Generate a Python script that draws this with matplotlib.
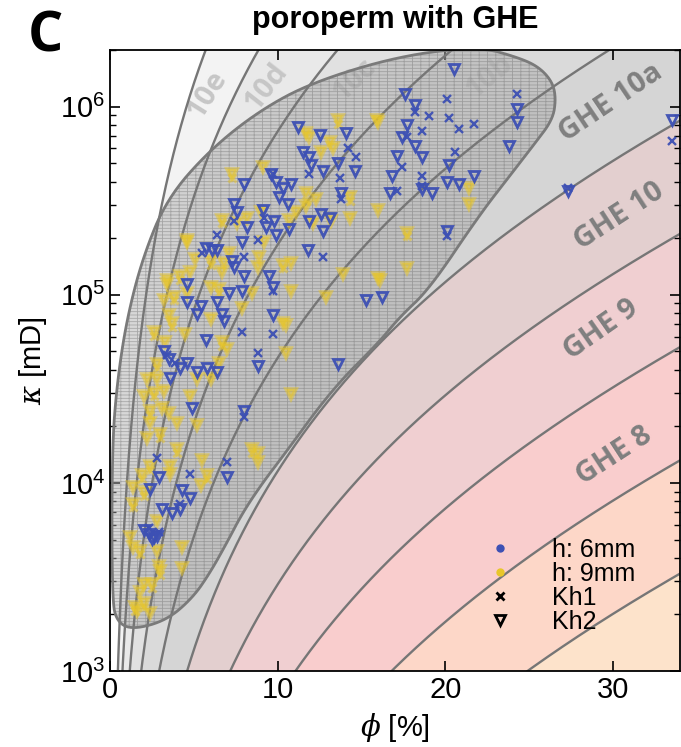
import numpy as np
import matplotlib
matplotlib.use("Agg")
import matplotlib.pyplot as plt
from matplotlib.patches import Polygon
from matplotlib.lines import Line2D

plt.rcParams["font.family"] = ["Liberation Sans", "DejaVu Sans"]
plt.rcParams["mathtext.fontset"] = "custom"
plt.rcParams["mathtext.it"] = "DejaVu Serif:italic"
plt.rcParams["hatch.linewidth"] = 0.6

# GHE class boundaries (flow zone indicator, um) and band colours
fzi_bounds = [6, 12, 24, 48, 96, 192, 384, 768, 1536, 3072]
band_colors = ["#fde3cb", "#fdd7c8", "#f9cdcd", "#f0cfd1", "#e3cfcf",
               "#d5d5d5", "#dadada", "#e1e1e1", "#e9e9e9", "#f3f3f3"]

# outline of the shaded data envelope: porosity [%], log10 permeability [mD]
blob_phi = [22.0, 24.4, 25.6, 26.4, 26.6, 26.4, 25.3, 24.0, 22.0, 19.05, 17.26,
            16.07, 13.27, 10.3, 9.1, 7.9, 6.96, 5.95, 4.94, 3.39, 1.37, 0.42,
            0.12, 0.12, 0.42, 1.0, 1.96, 3.39, 5.95, 8.93, 12.08, 17.26]
blob_logk = [6.32, 6.26, 6.21, 6.13, 6.04, 5.93, 5.80, 5.65, 5.42, 5.03, 4.88,
             4.75, 4.50, 4.14, 4.00, 3.84, 3.68, 3.52, 3.39, 3.27, 3.22, 3.26,
             3.38, 4.18, 4.53, 4.87, 5.20, 5.51, 5.77, 5.98, 6.13, 6.27]

# h: 6mm samples (phi [%], log10 k [mD])
h6_kh2 = [(20.5, 6.20), (17.6, 6.07), (18.2, 6.01), (24.3, 5.99), (24.3, 5.92),
          (23.8, 5.79), (17.7, 5.90), (17.4, 5.84), (18.2, 5.79), (18.6, 5.73),
          (17.1, 5.74), (16.8, 5.63), (20.2, 5.69), (20.1, 5.60), (20.8, 5.59),
          (21.7, 5.63), (18.6, 5.56), (19.2, 5.54), (16.7, 5.54), (14.1, 5.86),
          (14.6, 5.66), (13.6, 5.70), (13.8, 5.54), (20.1, 5.34), (13.1, 5.41),
          (27.3, 5.55), (33.5, 5.93), (11.2, 5.89), (12.5, 5.85), (11.5, 5.76),
          (11.9, 5.73), (12.0, 5.69), (12.7, 5.66), (9.6, 5.64), (9.9, 5.60),
          (10.3, 5.57), (10.8, 5.59), (10.1, 5.52), (10.6, 5.48), (8.0, 5.59),
          (7.4, 5.48), (7.6, 5.44), (9.1, 5.45), (9.8, 5.39), (8.2, 5.36),
          (9.3, 5.36), (9.9, 5.32), (10.7, 5.35), (11.8, 5.24), (12.6, 5.43),
          (12.7, 5.34), (7.9, 5.28), (5.7, 5.25), (6.1, 5.24), (6.4, 5.24),
          (7.3, 5.18), (7.4, 5.15), (9.5, 5.10), (8.0, 5.10), (11.9, 5.39),
          (4.6, 5.06), (7.1, 5.01), (7.9, 5.02), (4.6, 4.96), (5.4, 4.94),
          (5.2, 4.90), (6.4, 4.96), (6.7, 4.90), (6.8, 4.86), (9.7, 5.04),
          (9.7, 4.89), (5.7, 4.76), (8.8, 4.62), (15.3, 4.97), (16.2, 4.99),
          (13.6, 4.63), (4.9, 4.40), (8.0, 4.38), (2.9, 4.03), (7.0, 4.03),
          (2.4, 3.97), (4.3, 3.96), (4.8, 3.92), (3.1, 3.86), (3.7, 3.84),
          (4.2, 3.86), (2.0, 3.75), (2.3, 3.73), (2.6, 3.71), (2.8, 3.72),
          (2.5, 3.70), (3.2, 4.70), (3.5, 4.66), (4.2, 4.61), (4.6, 4.64),
          (5.2, 4.59), (5.8, 4.61), (6.4, 4.59), (3.6, 4.56)]
h6_kh1 = [(18.2, 5.97), (20.1, 6.04), (19.0, 5.95), (20.2, 5.94), (20.8, 5.88),
          (21.7, 5.91), (24.3, 6.07), (18.6, 5.87), (17.7, 5.84), (17.4, 5.68),
          (20.6, 5.76), (18.6, 5.63), (18.6, 5.58), (17.1, 5.55), (14.2, 5.78),
          (14.7, 5.73), (13.7, 5.62), (13.8, 5.51), (20.1, 5.31), (33.5, 5.82),
          (11.9, 5.64), (9.7, 5.64), (7.4, 5.39), (9.2, 5.41), (6.4, 5.32),
          (8.8, 5.29), (12.7, 5.20), (8.0, 5.20), (5.5, 5.22), (7.9, 4.80),
          (9.7, 4.79), (8.8, 4.69), (8.0, 4.35), (2.8, 4.13), (7.0, 4.11),
          (4.8, 4.05), (4.2, 3.89), (9.7, 5.02), (27.3, 5.57), (3.9, 4.64),
          (3.4, 4.68), (2.3, 3.76), (2.9, 3.74)]

# h: 9mm samples
h9_kh2 = [(11.9, 5.84), (7.3, 5.64), (9.1, 5.68), (12.6, 5.76), (11.7, 5.54),
          (11.7, 5.47), (12.3, 5.51), (11.1, 5.44), (10.7, 5.40), (7.6, 5.38),
          (6.7, 5.40), (8.2, 5.41), (4.6, 5.28), (5.1, 5.19), (6.0, 5.18),
          (6.8, 5.17), (7.1, 5.22), (8.8, 5.15), (10.3, 5.16), (10.8, 5.17),
          (4.8, 5.12), (6.7, 5.12), (4.2, 5.10), (9.2, 5.28), (8.9, 5.20),
          (12.1, 5.38), (9.0, 5.44), (15.9, 5.93), (13.6, 5.93), (16.0, 5.92),
          (13.3, 5.78), (14.3, 5.52), (14.3, 5.41), (16.0, 5.45), (17.7, 5.33),
          (21.4, 5.57), (21.4, 5.48), (17.7, 5.14), (16.0, 5.09), (13.9, 5.11),
          (13.2, 5.39), (3.4, 5.06), (6.0, 5.04), (6.5, 5.03), (8.5, 5.01),
          (10.8, 5.02), (3.2, 4.97), (3.8, 4.99), (4.6, 5.01), (3.5, 4.89),
          (3.7, 4.85), (6.0, 4.87), (10.3, 4.85), (7.9, 4.93), (2.6, 4.80),
          (3.3, 4.75), (4.5, 4.79), (6.7, 4.75), (7.0, 4.71), (6.5, 4.64),
          (6.0, 4.55), (5.2, 4.55), (2.8, 4.63), (2.2, 4.55), (2.8, 4.55),
          (2.0, 4.46), (2.6, 4.48), (3.2, 4.49), (3.1, 4.40), (2.4, 4.38),
          (3.5, 4.37), (4.0, 4.32), (2.4, 4.32), (3.0, 4.26), (2.2, 4.24),
          (5.2, 4.31), (4.8, 4.46), (10.8, 4.47), (10.5, 4.69), (4.0, 4.18),
          (5.5, 4.12), (2.4, 4.09), (3.6, 4.09), (8.5, 4.18), (8.8, 4.11),
          (1.9, 4.04), (5.8, 4.04), (3.6, 4.05), (1.4, 3.98), (2.0, 3.95),
          (5.4, 3.99), (1.4, 3.89), (2.8, 3.80), (1.2, 3.71), (1.4, 3.66),
          (1.8, 3.64), (2.8, 3.64), (4.3, 3.66), (2.9, 3.56), (3.0, 3.53),
          (4.3, 3.55), (2.0, 3.46), (2.5, 3.46), (1.8, 3.42), (2.0, 3.36),
          (1.6, 3.32), (2.4, 3.31), (1.5, 3.34), (11.7, 5.86), (13.1, 5.81),
          (4.6, 5.29), (3.4, 5.08), (16.1, 5.08), (10.5, 4.84), (12.9, 4.99),
          (8.8, 4.16)]
h9_kh1 = [(7.3, 5.62), (11.7, 5.50), (6.7, 5.38), (6.0, 5.16), (10.3, 5.14),
          (4.2, 5.08), (13.6, 5.91), (14.3, 5.50), (17.7, 5.31), (6.5, 5.01),
          (3.8, 4.97), (3.7, 4.83), (2.6, 4.78), (6.7, 4.73), (2.8, 4.61),
          (2.6, 4.46), (2.4, 4.36), (3.0, 4.24), (4.0, 4.16), (2.4, 4.07),
          (1.9, 4.02), (2.0, 3.93), (1.4, 3.87), (1.8, 3.62), (3.0, 3.51),
          (2.5, 3.44), (2.0, 3.34), (1.5, 3.32), (8.5, 4.16), (5.8, 4.02)]

ghe_text = ["GHE 10a", "GHE 10", "GHE 9", "GHE 8"]
sub_text = ["10e", "10d", "10c", "10b"]

blue = "#3d50b4"
yellow = "#e8c62a"


def ghe_k(fzi, phi):
    # k [mD] from FZI [um] and fractional porosity (Kozeny-Carman form)
    return 1014.24 * fzi ** 2 * phi ** 3 / (1 - phi) ** 2


def chaikin(x, y, n=3):
    pts = np.column_stack([x, y])
    for _ in range(n):
        nxt = np.roll(pts, -1, axis=0)
        q = 0.75 * pts + 0.25 * nxt
        r = 0.25 * pts + 0.75 * nxt
        pts = np.empty((2 * len(q), 2))
        pts[0::2] = q
        pts[1::2] = r
    return pts


fig = plt.figure(figsize=(6.81, 7.47), dpi=100)
ax = fig.add_axes([0.1615, 0.1017, 0.837, 0.8313])
ax.set_yscale("log")
ax.set_xlim(0, 34)
ax.set_ylim(1e3, 2e6)

phi = np.linspace(0.0005, 0.36, 800)
lower = np.full_like(phi, 1.0)
for fzi, col in zip(fzi_bounds, band_colors):
    upper = ghe_k(fzi, phi)
    ax.fill_between(phi * 100, lower, upper, color=col, lw=0, zorder=0)
    lower = upper
for fzi in fzi_bounds:
    ax.plot(phi * 100, ghe_k(fzi, phi), color="#767676", lw=1.7, zorder=2.2)

# sub-class labels (below the envelope)
sub_pos = [(5.8, 1.16e6, 58), (9.3, 1.28e6, 52), (14.6, 1.39e6, 44), (22.6, 1.44e6, 40)]
for t, (x, y, r) in zip(sub_text, sub_pos):
    ax.text(x, y, t, rotation=r, ha="center", va="center", fontsize=21,
            fontweight="bold", family="Open Sans", color="#c6c6c6", zorder=1)

# shaded envelope of the data
pts = chaikin(blob_phi, blob_logk)
xy = np.column_stack([pts[:, 0], 10 ** pts[:, 1]])
ax.add_patch(Polygon(xy, closed=True, facecolor="#a8a8a8", edgecolor="#707070",
                     alpha=0.45, lw=0, hatch="-----||", zorder=2))
ax.add_patch(Polygon(xy, closed=True, fill=False, edgecolor="#7a7a7a", lw=2,
                     zorder=2.3))

ghe_pos = [(29.9, 1.05e6, 34), (30.4, 2.6e5, 33), (29.3, 6.5e4, 35), (30.1, 1.4e4, 33)]
for t, (x, y, r) in zip(ghe_text, ghe_pos):
    ax.text(x, y, t, rotation=r, ha="center", va="center", fontsize=21,
            fontweight="bold", family="Open Sans", color="#7f7f7f", zorder=2.5)

for data, col, mk, a, ms, mew, fill in [
        (h9_kh2, yellow, "v", 0.5, 7, 2.6, True), (h9_kh1, yellow, "x", 0.5, 6, 2.2, False),
        (h6_kh2, blue, "v", 0.95, 7, 2.0, False), (h6_kh1, blue, "x", 0.95, 5.5, 1.7, False)]:
    arr = np.array(data)
    ax.plot(arr[:, 0], 10 ** arr[:, 1], ls="none", marker=mk, ms=ms, mew=mew,
            mfc=col if fill else "none", mec=col, alpha=a, zorder=3)

handles = [
    Line2D([], [], ls="none", marker="o", ms=5, color=blue),
    Line2D([], [], ls="none", marker="o", ms=5, color=yellow),
    Line2D([], [], ls="none", marker="x", ms=6, mew=2, color="black"),
    Line2D([], [], ls="none", marker="v", ms=7, mew=2, mfc="none", color="black"),
]
ax.legend(handles, ["h: 6mm", "h: 9mm", "Kh1", "Kh2"], loc="lower left",
          bbox_to_anchor=(0.64, 0.04), frameon=False, fontsize=18,
          labelspacing=0.0, handletextpad=1.6, handlelength=1.0, borderpad=0)

ax.set_xticks([0, 10, 20, 30])
ax.tick_params(which="both", direction="in", top=True, right=True, labelsize=21)
ax.tick_params(which="major", length=7, width=1.2)
ax.tick_params(which="minor", length=4, width=1)
for s in ax.spines.values():
    s.set_linewidth(1.3)
ax.set_xlabel(r"$\it{\phi}$ [%]", fontsize=21, labelpad=5)
ax.set_ylabel(r"$\it{\kappa}$ [mD]", fontsize=21, labelpad=8)
ax.set_title("poroperm with GHE", fontsize=22, fontweight="bold", pad=16)
fig.text(0.066, 0.95, "C", fontsize=40, fontweight="bold", family="Open Sans",
         ha="center", va="center")

fig.savefig("out.png", dpi=100)
